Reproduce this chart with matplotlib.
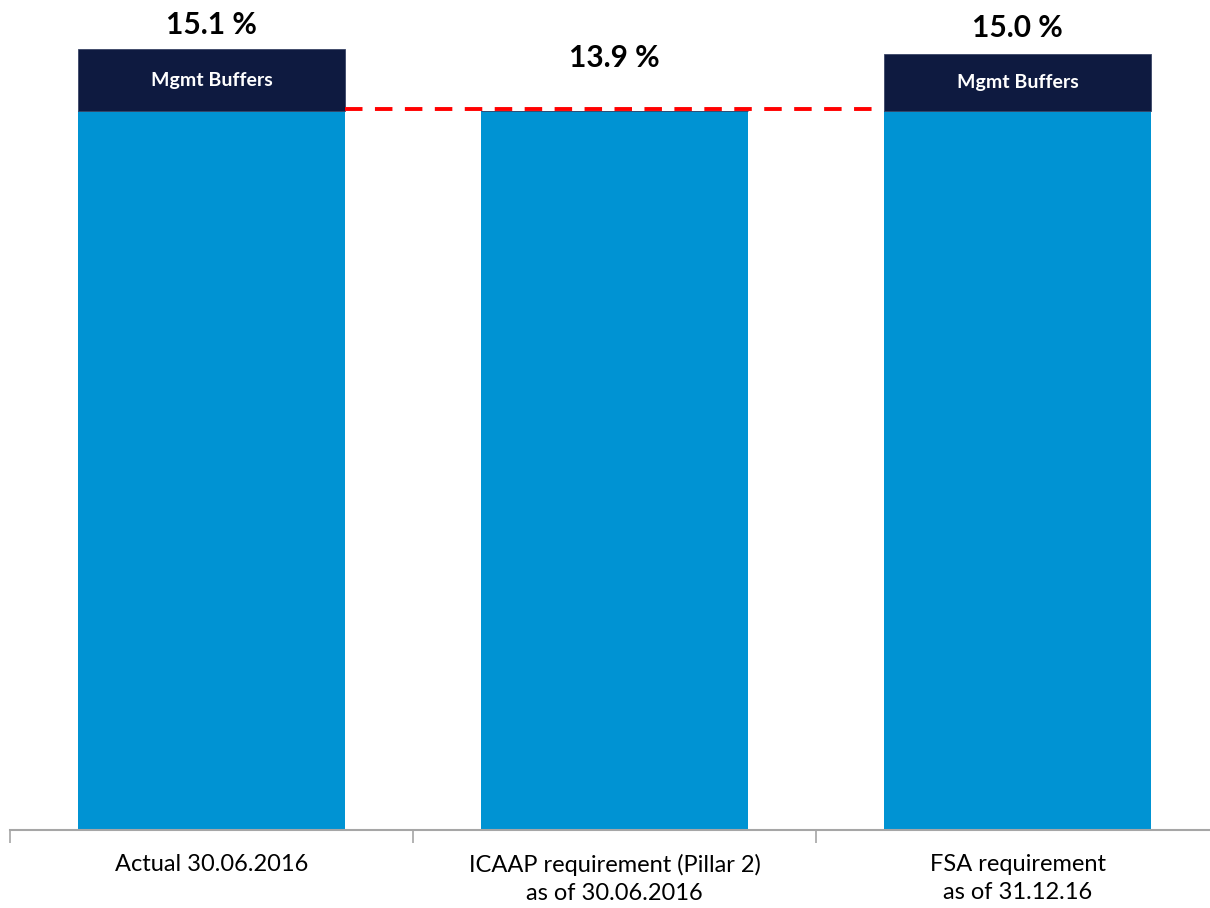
import matplotlib.pyplot as plt

# ── Данные ───────────────────────────────────────────────────────────────────
categories = ["Actual 30.06.2016",
              "ICAAP requirement (Pillar 2)\nas of 30.06.2016",
              "FSA requirement\nas of 31.12.16"]
base_vals   = [13.9, 13.9, 13.9]      # синий сегмент
buffer_vals = [1.2, 0.0, 1.1]         # Mgmt Buffers
total_labels = ["15.1 %", "13.9 %", "15.0 %"]
ref_level = 13.95                     # красная пунктирная линия

BLUE = "#0093D3"
NAVY = "#0E1A40"
RED = "#FF0000"
FONT = "Lato"

plt.rcParams["font.family"] = [FONT, "DejaVu Sans"]

fig = plt.figure(figsize=(12.1, 9.08), dpi=100)
ax = fig.add_axes([10 / 1210, 78 / 908, 1209 / 1210, 830 / 908])

x = list(range(len(categories)))
width = 0.665

ax.bar(x, base_vals, width, color=BLUE, edgecolor="none")
ax.bar(x, buffer_vals, width, bottom=base_vals, color=NAVY,
       edgecolor="#3a4566", linewidth=0.6)

for xi, b, h in zip(x, base_vals, buffer_vals):
    if h > 0:
        ax.text(xi, b + h / 2, "Mgmt Buffers", ha="center", va="center",
                color="white", fontsize=14, fontweight="bold")

# подписи итогов: над средним столбцом выше, как в оригинале
offsets = [7, 28, 9]
for xi, b, h, lab, off in zip(x, base_vals, buffer_vals, total_labels, offsets):
    ax.annotate(lab, (xi, b + h), xytext=(0, off), textcoords="offset points",
                ha="center", va="bottom", fontsize=21.5, fontweight="bold",
                color="black")

ax.plot([x[0] + width / 2, x[2] - width / 2], [ref_level, ref_level],
        color=RED, linewidth=2.8, dashes=(4.5, 3.2))

ax.set_xlim(-0.5, 2.5)
ax.set_ylim(0, 16.05)

ax.set_xticks([-0.5, 0.5, 1.5, 2.5])
ax.set_xticklabels([])
ax.set_xticks(x, minor=True)
ax.set_xticklabels(categories, minor=True, fontsize=17, linespacing=1.45)
ax.tick_params(axis="x", which="major", length=9, width=1.2, color="#A6A6A6",
               direction="out")
ax.tick_params(axis="x", which="minor", length=0, pad=17)
ax.set_yticks([])

for s in ["top", "right", "left"]:
    ax.spines[s].set_visible(False)
ax.spines["bottom"].set_color("#A6A6A6")
ax.spines["bottom"].set_linewidth(1.5)

fig.savefig("out.png", dpi=100)
